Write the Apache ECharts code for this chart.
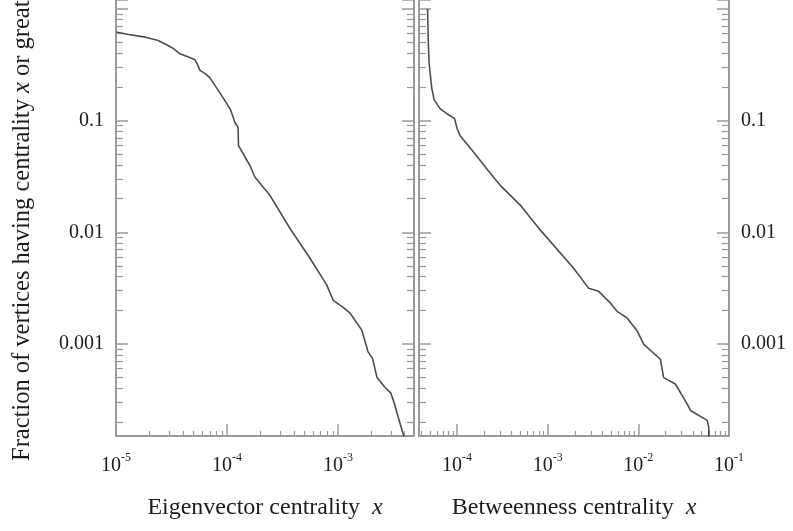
<!DOCTYPE html>
<html><head><meta charset="utf-8">
<script src="https://cdn.jsdelivr.net/npm/echarts@6/dist/echarts.min.js"></script>
<style>html,body{margin:0;padding:0;background:#fff}#c{width:793px;height:531px}</style>
</head><body><div id="c"></div>
<script>
// ---- data ----
const eigX = [1e-5, 1.3e-5, 1.89e-5, 2.4e-5, 2.86e-5, 3.3e-5, 3.77e-5, 4.5e-5, 5.15e-5, 5.4e-5, 5.71e-5, 6.4e-5, 7.03e-5, 8.07e-5, 9.3e-5, 1.064e-4, 1.12e-4, 1.18e-4, 1.26e-4, 1.27e-4, 1.61e-4, 1.79e-4, 2.44e-4, 3.7e-4, 5.6e-4, 7.9e-4, 9.07e-4, 1.1e-3, 1.28e-3, 1.64e-3, 1.87e-3, 2.05e-3, 2.25e-3, 2.65e-3, 3.0e-3, 3.23e-3, 3.5e-3, 3.87e-3, 3.95e-3];
const eigY = [0.62, 0.59, 0.555, 0.52, 0.477, 0.44, 0.396, 0.37, 0.351, 0.32, 0.281, 0.262, 0.241, 0.196, 0.158, 0.128, 0.112, 0.096, 0.0867, 0.0596, 0.0396, 0.0311, 0.0214, 0.0108, 0.00585, 0.0034, 0.00246, 0.00215, 0.0019, 0.00133, 8.5e-4, 7.43e-4, 5.0e-4, 4.1e-4, 3.63e-4, 2.93e-4, 2.2e-4, 1.57e-4, 1.45e-4];
const betX = [4.72e-5, 4.82e-5, 4.91e-5, 5.04e-5, 5.25e-5, 5.57e-5, 6.49e-5, 7.76e-5, 9.38e-5, 1.0e-4, 1.08e-4, 1.39e-4, 1.8e-4, 2.13e-4, 2.99e-4, 4.97e-4, 8.26e-4, 1.93e-3, 2.82e-3, 3.64e-3, 4.9e-3, 5.82e-3, 7.5e-3, 9.68e-3, 1.15e-2, 1.75e-2, 1.9e-2, 2.56e-2, 3.45e-2, 3.76e-2, 5.74e-2, 5.98e-2, 5.98e-2];
const betY = [1.0, 0.49, 0.33, 0.267, 0.196, 0.154, 0.128, 0.115, 0.104, 0.085, 0.073, 0.057, 0.0438, 0.0369, 0.0263, 0.0175, 0.0105, 0.00477, 0.00316, 0.00296, 0.00233, 0.00196, 0.00171, 0.00131, 9.9e-4, 7.3e-4, 5.0e-4, 4.38e-4, 2.91e-4, 2.54e-4, 2.07e-4, 1.8e-4, 1.4e-4];

// ---- axis ticks / labels ----
const yTickValues = [0.1, 0.01, 0.001];
const yTickLabels = ['0.1', '0.01', '0.001'];
const xTickExpLeft = [-5, -4, -3];
const xTickExpRight = [-4, -3, -2, -1];
const minorMultipliers = [2, 3, 4, 5, 6, 7, 8, 9];
const yRange = [1.5e-4, 1.2];
const xRangeLeft = [1e-5, 4.85e-3];
const xRangeRight = [3.8e-5, 0.1];

const FONT = "'Liberation Serif', 'Times New Roman', serif";
const TXT = '#1c1c1c';
const AX = '#9a9a9a';

function minorLogs(range) {
  const out = [];
  const e0 = Math.floor(Math.log10(range[0])), e1 = Math.ceil(Math.log10(range[1]));
  for (let e = e0; e <= e1; e++) for (const k of minorMultipliers) {
    const v = k * Math.pow(10, e);
    if (v > range[0] && v < range[1]) out.push(Math.log10(v));
  }
  return out;
}
function isPow(v) { const l = Math.log10(v); return Math.abs(l - Math.round(l)) < 1e-6 ? Math.round(l) : null; }
function yFmt(v) {
  const e = isPow(v); if (e === null) return '';
  const i = yTickValues.findIndex(t => Math.abs(Math.log10(t) - e) < 1e-6);
  return i >= 0 ? yTickLabels[i] : '';
}
function xFmt(list) {
  return function (v) {
    const e = isPow(v); if (e === null || list.indexOf(e) < 0) return '';
    return '{n|10}{s|-' + Math.abs(e) + '}';
  };
}
const xRich = {
  n: { fontFamily: FONT, fontSize: 20, color: TXT, lineHeight: 20, padding: [7, 0, 0, 0] },
  s: { fontFamily: FONT, fontSize: 12, color: TXT, lineHeight: 12, verticalAlign: 'top' }
};

const G0 = { left: 116, top: -3, width: 298, height: 439 };
const G1 = { left: 419, top: -3, width: 310, height: 439 };

function mainX(grid, range, list, name) {
  return {
    type: 'log', logBase: 10, gridIndex: grid, min: range[0], max: range[1],
    axisLine: { show: true, onZero: false, lineStyle: { color: AX, width: 2 } },
    axisTick: { show: true, inside: true, length: 12, lineStyle: { color: AX, width: 1.5 } },
    axisLabel: { show: true, margin: 16, formatter: xFmt(list), rich: xRich, showMinLabel: true, showMaxLabel: true },
    splitLine: { show: false },
    name: name, nameLocation: 'middle', nameGap: 60,
    nameTextStyle: { fontFamily: FONT, fontSize: 24, color: TXT,
      rich: { i: { fontFamily: FONT, fontSize: 24, fontStyle: 'italic', color: TXT } } }
  };
}
function mainY(grid, pos, labels) {
  return {
    type: 'log', logBase: 10, gridIndex: grid, position: pos, min: yRange[0], max: yRange[1],
    axisLine: { show: true, onZero: false, lineStyle: { color: AX, width: 2 } },
    axisTick: { show: true, inside: true, length: 12, lineStyle: { color: AX, width: 1.5 } },
    axisLabel: { show: labels, margin: 12, formatter: yFmt, fontFamily: FONT, fontSize: 20, color: TXT },
    splitLine: { show: false }
  };
}
function minorAxis(grid, range, len, pos) {
  const a = {
    type: 'value', gridIndex: grid, min: Math.log10(range[0]), max: Math.log10(range[1]),
    axisLine: { show: false, onZero: false },
    axisTick: { show: true, inside: true, length: len, customValues: minorLogs(range), lineStyle: { color: AX, width: 1.2 } },
    axisLabel: { show: false }, splitLine: { show: false }
  };
  if (pos) a.position = pos;
  return a;
}

const option = {
  backgroundColor: '#fff',
  animation: false,
  grid: [G0, G1, Object.assign({}, G0), Object.assign({}, G1)],
  xAxis: [
    mainX(0, xRangeLeft, xTickExpLeft, 'Eigenvector centrality  {i|x}'),
    mainX(1, xRangeRight, xTickExpRight, 'Betweenness centrality  {i|x}'),
    minorAxis(2, xRangeLeft, 5),
    minorAxis(3, xRangeRight, 5)
  ],
  yAxis: [
    mainY(0, 'left', true),
    mainY(0, 'right', false),
    mainY(1, 'left', false),
    mainY(1, 'right', true),
    minorAxis(2, yRange, 7, 'left'),
    minorAxis(2, yRange, 7, 'right'),
    minorAxis(3, yRange, 7, 'left'),
    minorAxis(3, yRange, 7, 'right')
  ],
  series: [
    { type: 'line', xAxisIndex: 0, yAxisIndex: 0, showSymbol: false, clip: true,
      lineStyle: { color: '#4d4d4d', width: 1.6 }, data: eigX.map((x, i) => [x, eigY[i]]) },
    { type: 'line', xAxisIndex: 1, yAxisIndex: 2, showSymbol: false, clip: true,
      lineStyle: { color: '#4d4d4d', width: 1.6 }, data: betX.map((x, i) => [x, betY[i]]) }
  ],
  graphic: [{
    type: 'text', x: 23, y: 461, rotation: Math.PI / 2,
    style: { text: 'Fraction of vertices having centrality {i|x} or greater', fontFamily: FONT, fontSize: 24.5, fill: TXT,
      align: 'left', verticalAlign: 'middle',
      rich: { i: { fontFamily: FONT, fontSize: 24.5, fontStyle: 'italic', fill: TXT } } }
  }]
};
const chart = echarts.init(document.getElementById('c'), null, { renderer: 'canvas' });
chart.setOption(option);
</script></body></html>
